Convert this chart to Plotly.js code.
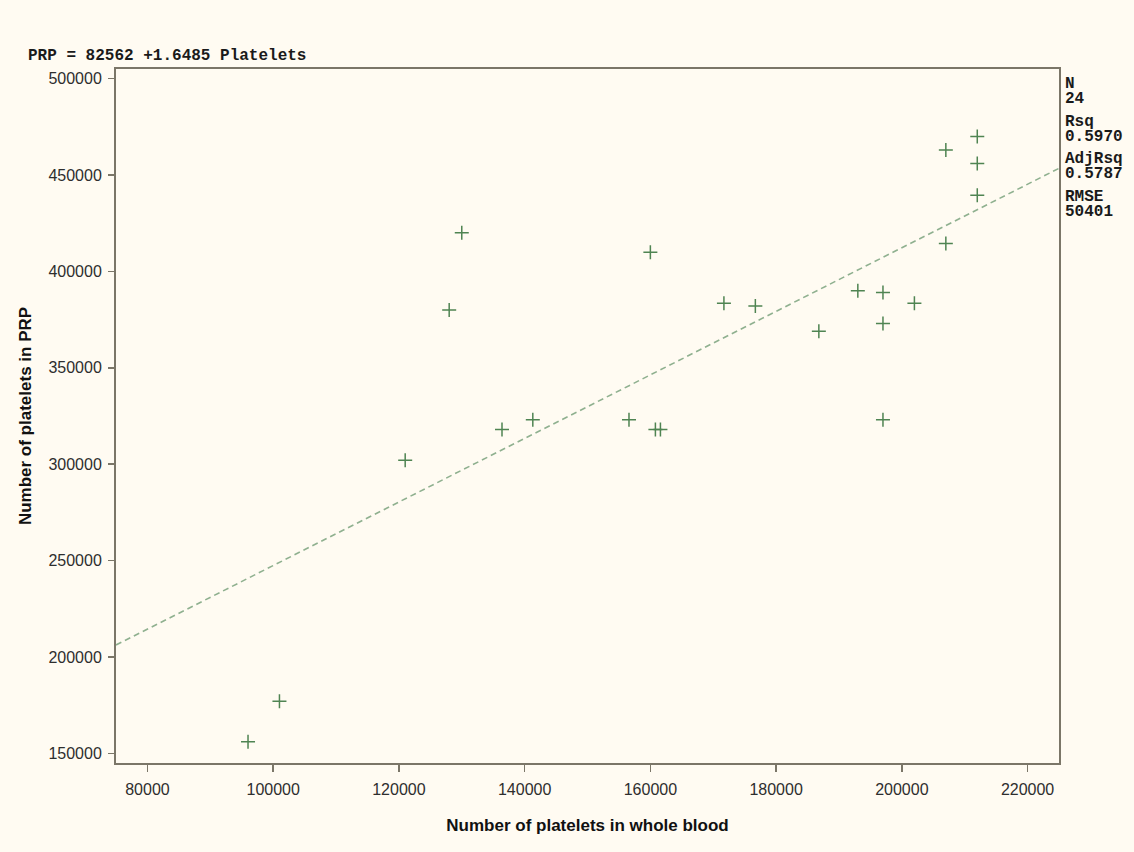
<!DOCTYPE html>
<html>
<head>
<meta charset="utf-8">
<script src="https://cdn.plot.ly/plotly-3.0.1.min.js"></script>
<style>
html,body{margin:0;padding:0;background:#fffbf2;}
#chart{width:1134px;height:852px;}
</style>
</head>
<body>
<div id="chart"></div>
<script>
// Data
const wholeBlood = [96000, 101000, 121000, 128000, 130000, 136400, 141300, 156600, 160000, 160800, 161600, 171700, 176700, 186800, 193000, 197000, 197000, 197000, 202000, 207000, 207000, 212000, 212000, 212000];
const prp        = [156000, 177000, 302000, 380000, 420000, 318000, 323000, 323000, 410000, 318000, 318000, 383500, 382000, 369000, 390000, 389000, 373000, 323000, 383500, 463000, 414500, 470000, 456000, 439500];
const intercept = 82562;
const slope = 1.6485;
const xRange = [75000, 225000];
const yRange = [145000, 505000];
const xTicks = [80000, 100000, 120000, 140000, 160000, 180000, 200000, 220000];
const yTicks = [150000, 200000, 250000, 300000, 350000, 400000, 450000, 500000];
const statsLabels = ["N", "Rsq", "AdjRsq", "RMSE"];
const statsValues = ["24", "0.5970", "0.5787", "50401"];
const equationText = "PRP = 82562 +1.6485 Platelets";

const fitX = xRange.slice();
const fitY = fitX.map(v => intercept + slope * v);

const axisColor = "#7b7668";
const monoFont = {family: "Liberation Mono, Courier New, monospace", size: 16, color: "#1a1a1a", weight: "bold"};

const traces = [
  {
    x: fitX, y: fitY, type: "scatter", mode: "lines",
    line: {color: "#8fb08f", width: 1.6, dash: "6px,4px"},
    hoverinfo: "skip", showlegend: false
  },
  {
    x: wholeBlood, y: prp, type: "scatter", mode: "markers",
    marker: {symbol: "cross-thin-open", size: 10, color: "#4f8452", line: {color: "#4f8452", width: 1.5}},
    showlegend: false
  }
];

const annotations = [
  {xref: "paper", yref: "paper", x: -0.095, y: 1.0 + 13/694, xanchor: "left", yanchor: "middle",
   text: equationText, showarrow: false, font: monoFont}
];
statsLabels.forEach((lab, i) => {
  const y0 = 84 + i * 37.6;
  annotations.push({xref: "paper", yref: "paper", x: (1064 - 116) / 943, xanchor: "left", yanchor: "middle",
    y: (763 - y0) / 694, text: lab, showarrow: false, font: monoFont, borderpad: 0});
  annotations.push({xref: "paper", yref: "paper", x: (1064 - 116) / 943, xanchor: "left", yanchor: "middle",
    y: (763 - (y0 + 15.3)) / 694, text: statsValues[i], showarrow: false, font: monoFont, borderpad: 0});
});

const layout = {
  width: 1134, height: 852,
  margin: {l: 116, r: 75, t: 69, b: 89, pad: 0},
  paper_bgcolor: "#fffbf2", plot_bgcolor: "#fffbf2",
  showlegend: false,
  font: {family: "Liberation Sans, Arial, sans-serif", size: 16, color: "#333333"},
  xaxis: {
    range: xRange, tickvals: xTicks, ticktext: xTicks.map(String),
    showgrid: false, zeroline: false,
    showline: true, linecolor: axisColor, linewidth: 2, mirror: true,
    ticks: "outside", ticklen: 7, tickwidth: 1.5, tickcolor: axisColor,
    ticklabelstandoff: 4,
    tickfont: {family: "Liberation Sans, Arial, sans-serif", size: 16, color: "#2e2e2e"},
    title: {text: "<b>Number of platelets in whole blood</b>", standoff: 22,
            font: {family: "Liberation Sans, Arial, sans-serif", size: 17, color: "#111111"}}
  },
  yaxis: {
    range: yRange, tickvals: yTicks, ticktext: yTicks.map(String),
    showgrid: false, zeroline: false,
    showline: true, linecolor: axisColor, linewidth: 2, mirror: true,
    ticks: "outside", ticklen: 6, tickwidth: 1.5, tickcolor: axisColor,
    ticklabelstandoff: 3,
    tickfont: {family: "Liberation Sans, Arial, sans-serif", size: 16, color: "#2e2e2e"},
    title: {text: "<b>Number of platelets in PRP</b>", standoff: 12,
            font: {family: "Liberation Sans, Arial, sans-serif", size: 17, color: "#111111"}}
  },
  annotations: annotations
};

Plotly.newPlot("chart", traces, layout, {staticPlot: true, displayModeBar: false});
</script>
</body>
</html>
